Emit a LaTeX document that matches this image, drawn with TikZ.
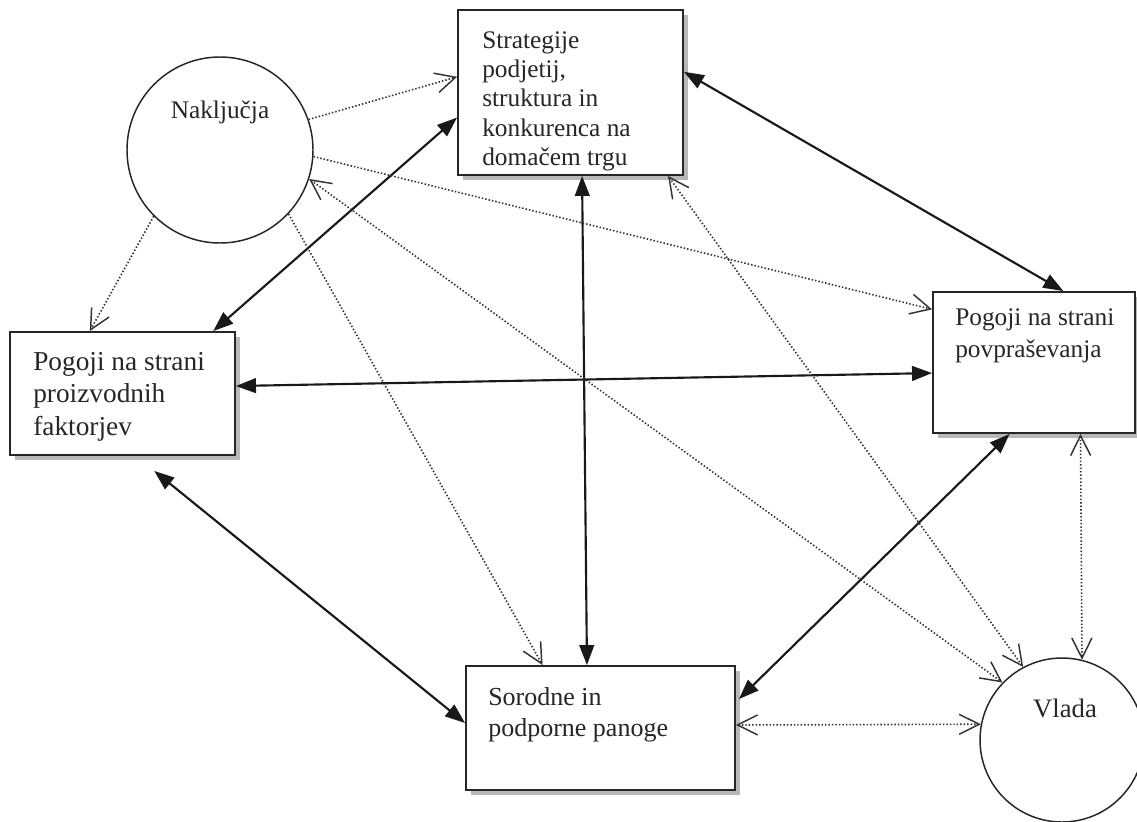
\documentclass[tikz,border=0pt]{standalone}
\usepackage{fontspec}
\setmainfont{Liberation Serif}
\usetikzlibrary{arrows.meta,calc,shadows}
\tikzset{
  box/.style={draw=black!85, line width=1.4pt, fill=white, inner sep=0pt,
    drop shadow={shadow xshift=3.5pt, shadow yshift=-3.5pt, fill=black!28, opacity=1}},
  circ/.style={circle, draw=black!85, line width=1.1pt, fill=white, inner sep=0pt},
  lbl/.style={anchor=north west, align=left, inner sep=0pt, text=black!85},
  clbl/.style={anchor=center, inner sep=0pt, text=black!85},
  ftip/.tip={Triangle[length=15pt,width=11pt]},
  vtip/.tip={Straight Barb[length=15pt,width=15pt,line width=1.1pt]},
  solidlink/.style={line width=1.6pt, draw=black!90, ftip-ftip},
  dotlink/.style={line width=1.2pt, draw=black!80, dash pattern=on 1.1pt off 1.5pt},
}
\begin{document}
\begin{tikzpicture}[x=0.75pt,y=-0.75pt]
\fill[white] (0,0) rectangle (1137,821);
\useasboundingbox (0,0) rectangle (1137,821);

% boxes
\node[box, minimum width=168.75pt, minimum height=123.75pt] (strat) at (570.5,92.5) {};
\node[box, minimum width=168.75pt, minimum height=92.25pt] (fakt) at (122.5,393.5) {};
\node[box, minimum width=151.5pt, minimum height=105.75pt] (povp) at (1034,362.5) {};
\node[box, minimum width=201.75pt, minimum height=93pt] (sor) at (600.5,728) {};
% circles
\node[circ, minimum size=139.5pt] (nak) at (220,150) {};
\node[circ, minimum size=123pt] (vlada) at (1062,740) {};

% labels
\node[lbl, font=\fontsize{19}{22.1}\selectfont] (tstrat) at (482,31)
  {Strategije\\podjetij,\\struktura in\\konkurenca na\\domačem trgu};
\node[lbl, font=\fontsize{20.5}{24.4}\selectfont] (tfakt) at (33,352)
  {Pogoji na strani\\proizvodnih\\faktorjev};
\node[lbl, font=\fontsize{19}{24}\selectfont] (tpovp) at (955,308)
  {Pogoji na strani\\povpraševanja};
\node[lbl, font=\fontsize{19.5}{23.3}\selectfont] (tsor) at (488,687)
  {Sorodne in\\podporne panoge};
\node[clbl, font=\fontsize{19}{22}\selectfont] (tnak) at (220,112) {Naključja};
\node[clbl, font=\fontsize{20}{22}\selectfont] (tvlada) at (1065,708) {Vlada};

% solid double arrows
\draw[solidlink] ($(fakt.north west)!0.90!(fakt.north east)$) -- ($(strat.north west)!0.65!(strat.south west)$);
\draw[solidlink] ($(strat.south west)!0.551!(strat.south east)$) -- ($(sor.north west)!0.45!(sor.north east)$);
\draw[solidlink] ($(fakt.north east)!0.44!(fakt.south east)$) -- ($(povp.north west)!0.574!(povp.south west)$);
\draw[solidlink] ($(strat.north east)!0.376!(strat.south east)$) -- ($(povp.north west)!0.644!(povp.north east)$);
\draw[solidlink] ($(fakt.south west)!0.64!(fakt.south east)+(0,15)$) -- ($(sor.north west)!0.46!(sor.south west)$);
\draw[solidlink] ($(povp.south west)!0.38!(povp.south east)$) -- ($(sor.north east)!0.27!(sor.south east)+(3,0)$);

% dotted arrows
\draw[dotlink, -vtip] (nak.19.6) -- ($(strat.north west)!0.406!(strat.south west)$);
\draw[dotlink, -vtip] (nak.-4.8) -- ($(povp.north west)!0.128!(povp.south west)$);
\draw[dotlink, -vtip] (nak.225.8) -- ($(fakt.north west)!0.356!(fakt.north east)$);
\draw[dotlink, -vtip] (nak.-43.8) -- ($(sor.north west)!0.286!(sor.north east)$);
\draw[dotlink, vtip-vtip] (nak.-18.6) -- (vlada.136);
\draw[dotlink, vtip-vtip] ($(strat.south west)!0.93!(strat.south east)$) -- (vlada.118);
\draw[dotlink, vtip-vtip] ($(povp.south west)!0.728!(povp.south east)$) -- (vlada.76);
\draw[dotlink, vtip-vtip] ($(sor.north east)!0.476!(sor.south east)$) -- (vlada.169);
\end{tikzpicture}
\end{document}
